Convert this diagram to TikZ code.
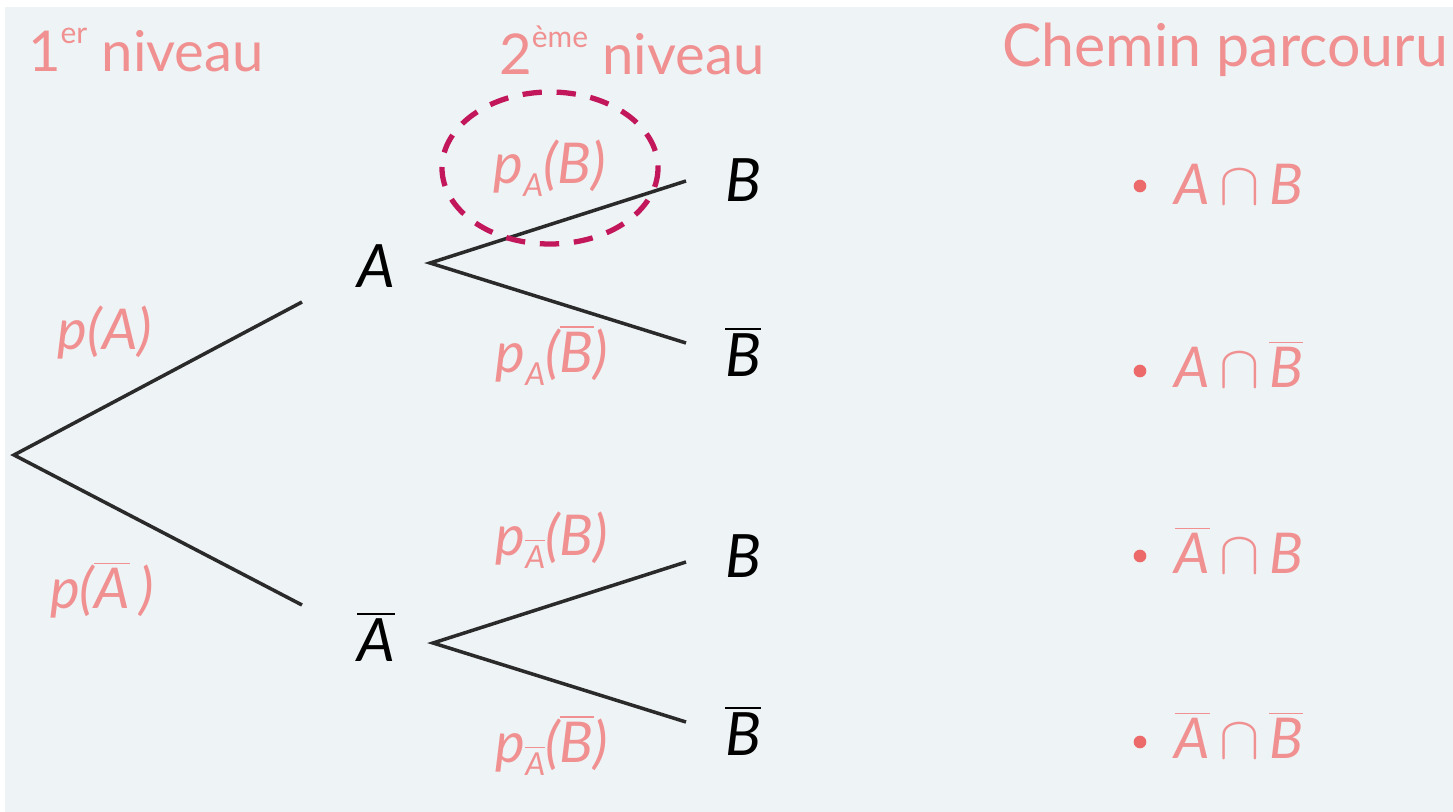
\documentclass[tikz,border=0pt]{standalone}
\usepackage{fontspec}
\setmainfont{Lato}
\definecolor{bgc}{HTML}{EEF3F6}
\definecolor{salmon}{HTML}{F09090}
\definecolor{dotc}{HTML}{EC6A6A}
\definecolor{linec}{HTML}{2A2A2A}
\definecolor{magc}{HTML}{C2185B}
\newcommand\ov[1]{\ensuremath{\overline{\hbox{#1}}}}
\newcommand\subA{\raisebox{-0.45ex}{\fontsize{9}{10}\selectfont\itshape A}}
\newcommand\subAb{\raisebox{-0.45ex}{\fontsize{9}{10}\selectfont\ov{\itshape A}}}
\newcommand\supx[1]{\raisebox{0.95ex}{\fontsize{8.5}{10}\selectfont #1}}
\begin{document}
\begin{tikzpicture}[x=0.01cm,y=-0.01cm,
  txt/.style={font=\fontsize{16}{19}\selectfont, inner sep=0pt},
  head/.style={txt, text=salmon},
  prob/.style={txt, text=salmon, font=\fontsize{16}{19}\selectfont\itshape},
  event/.style={txt, text=black, font=\fontsize{17}{20}\selectfont\itshape},
  path/.style={txt, text=salmon, font=\fontsize{16}{19}\selectfont\itshape},
  branch/.style={draw=linec, line width=1pt},
  dotm/.style={circle, fill=dotc, inner sep=0pt, minimum size=3.6pt}]
\useasboundingbox (0,0) rectangle (1453,812);
\fill[white] (0,0) rectangle (1453,812);
\fill[bgc] (5,7) rectangle (1453,812);
% headings
\node[head] (h1) at (146,50) {1\supx{er} niveau};
\node[head] (h2) at (632,50) {2\supx{ème} niveau};
\node[head, font=\fontsize{16.8}{19}\selectfont] (h3) at (1225,50) {Chemin parcouru};
% tree coordinates
\coordinate (root) at (14,455);
\coordinate (aIn) at (302,302);
\coordinate (abIn) at (302,605);
\coordinate (aOut) at (430,263);
\coordinate (abOut) at (433,643);
\coordinate (b1) at (686,181);
\coordinate (b2) at (686,343);
\coordinate (b3) at (686,562);
\coordinate (b4) at (686,722);
% events
\node[event] (A) at (376,266) {A};
\node[event] (Ab) at (376,637) {\ov{A}};
\node[event] (B1) at (743,180) {B};
\node[event] (B2) at (743,352) {\ov{B}};
\node[event] (B3) at (743,556) {B};
\node[event] (B4) at (743,731) {\ov{B}};
% branches
\draw[branch] (aIn) -- (root) -- (abIn);
\draw[branch] (b1) -- (aOut) -- (b2);
\draw[branch] (b3) -- (abOut) -- (b4);
% probabilities
\node[prob] (pA) at (105,333) {p(A)};
\node[prob] (pAb) at (102,590) {p(\ov{A}\,)};
\node[prob] (pAB) at (550,168) {p\subA(B)};
\node[prob] (pABb) at (552,355) {p\subA(\ov{B})};
\node[prob] (pAbB) at (552,540) {p\subAb(B)};
\node[prob] (pAbBb) at (552,745) {p\subAb(\ov{B})};
% dashed ellipse
\draw[magc, line width=1.5pt, dash pattern=on 5.5pt off 4.2pt] (550,168) ellipse [x radius=108, y radius=76];
% paths
\node[dotm] (d1) at (1140,186) {};
\node[dotm] (d2) at (1140,371) {};
\node[dotm] (d3) at (1140,556) {};
\node[dotm] (d4) at (1140,742) {};
\node[path, anchor=west] (c1) at (1174,184) {A\,$\cap$\,B};
\node[path, anchor=west] (c2) at (1174,364) {A\,$\cap$\,\ov{B}};
\node[path, anchor=west] (c3) at (1174,550) {\ov{A}\,$\cap$\,B};
\node[path, anchor=west] (c4) at (1174,735) {\ov{A}\,$\cap$\,\ov{B}};
\end{tikzpicture}
\end{document}
